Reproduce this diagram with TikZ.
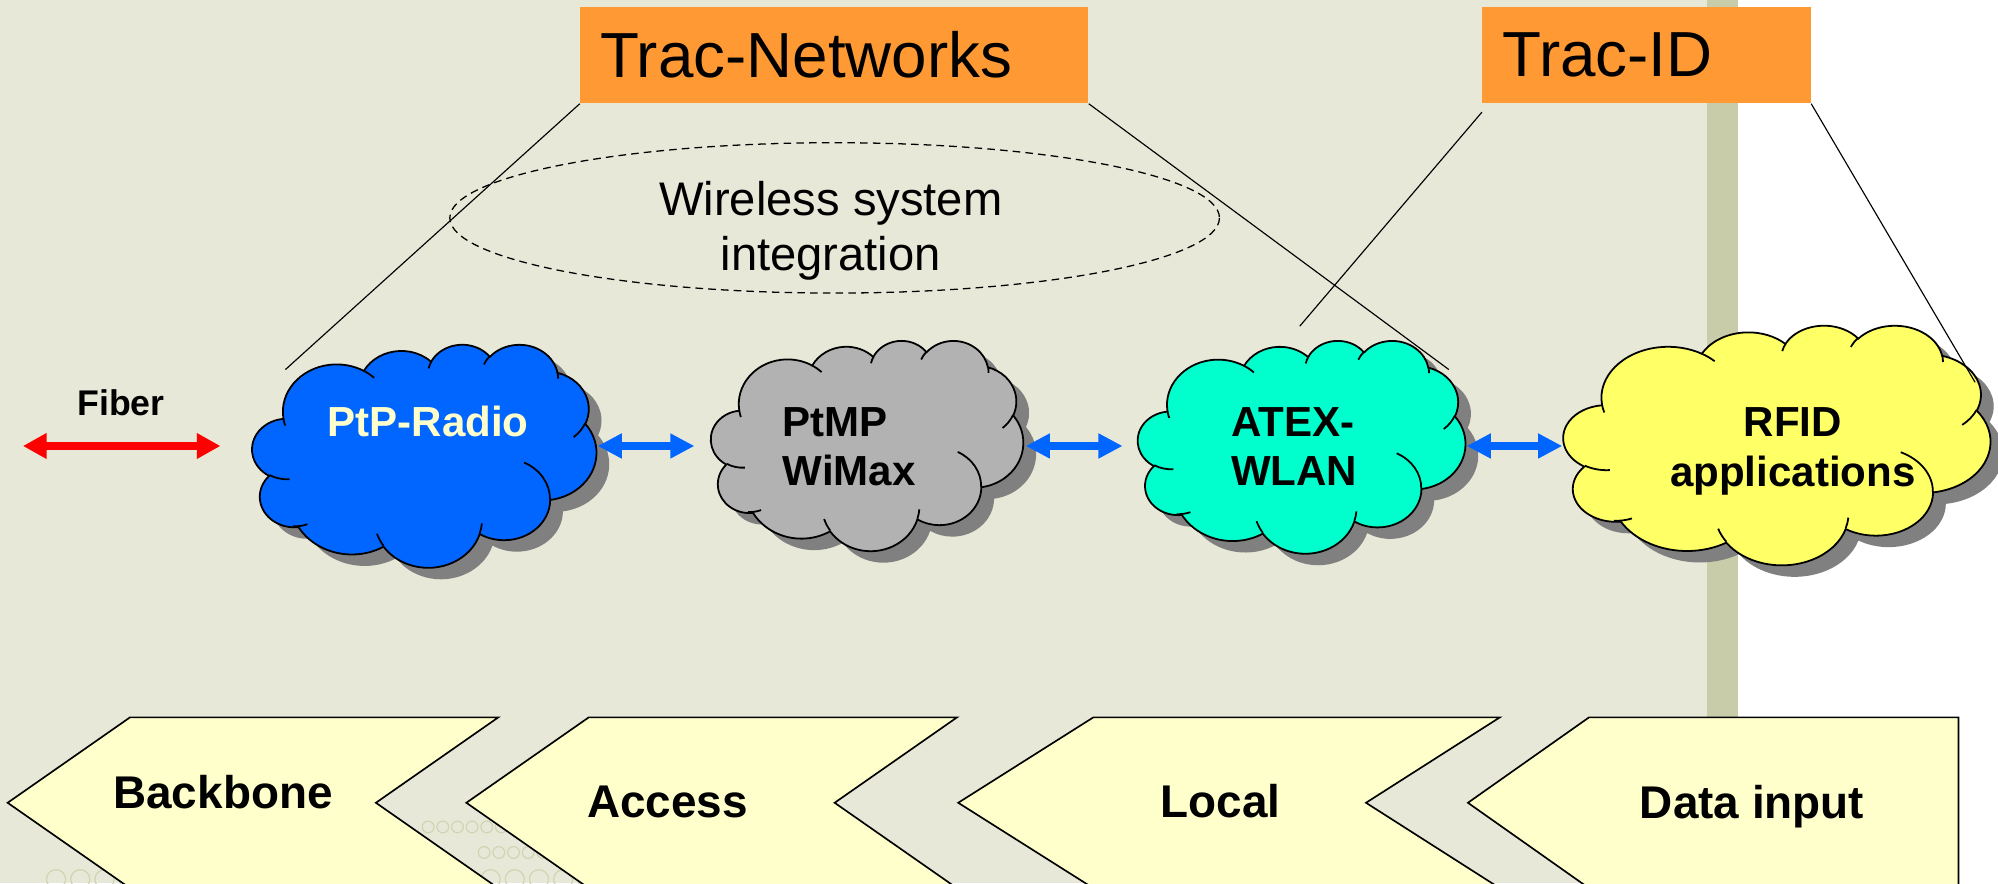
\documentclass[tikz,border=0pt]{standalone}
\usepackage{fontspec}
\setmainfont{Liberation Sans}
\usetikzlibrary{arrows.meta}
\definecolor{bgbeige}{HTML}{E8E8D8}
\definecolor{stripecol}{HTML}{C8CCA8}
\definecolor{orangebox}{HTML}{FF9933}
\definecolor{chevfill}{HTML}{FFFFCC}
\definecolor{ptpblue}{HTML}{0066FF}
\definecolor{wimaxgray}{HTML}{B2B2B2}
\definecolor{atexgreen}{HTML}{00FFCC}
\definecolor{rfidyellow}{HTML}{FFFF66}
\definecolor{dotcol}{HTML}{D0D4B0}
\definecolor{fibred}{HTML}{FF0000}
\definecolor{shadowgray}{HTML}{808080}
% PowerPoint-style cloud outline in a 432 x 432 box (y downwards)
\def\cloudouterpath{(39.00,143.70)
 arc[start angle=-187.745, end angle=-59.636, x radius=67.53, y radius=91.90]
 arc[start angle=-152.055, end angle=-45.443, x radius=53.33, y radius=72.67]
 arc[start angle=-153.492, end angle=-37.336, x radius=43.65, y radius=59.45]
 arc[start angle=-139.702, end angle=-10.212, x radius=48.57, y radius=65.95]
 arc[start angle=-74.768, end angle=23.209, x radius=53.33, y radius=72.73]
 arc[start angle=-37.521, end angle=81.862, x radius=67.75, y radius=92.20]
 arc[start angle=0.4596, end angle=121.980, x radius=57.85, y radius=78.67]
 arc[start angle=16.845, end angle=146.213, x radius=67.52, y radius=92.15]
 arc[start angle=58.988, end angle=150.203, x radius=77.20, y radius=105.43]
 arc[start angle=-276.694, end angle=-136.885, x radius=43.60, y radius=59.18]
 arc[start angle=-239.649, end angle=-95.887, x radius=43.45, y radius=59.45]
 -- cycle}
\def\cloudinnerpath{
 (46.93,261.77) arc[start angle=85.547, end angle=120.351, x radius=43.45, y radius=59.45]
 (69.28,348.99) arc[start angle=68.233, end angle=92.756, x radius=43.60, y radius=59.18]
 (164.78,390.90) arc[start angle=146.213, end angle=162.447, x radius=67.52, y radius=92.15]
 (288.27,347.51) arc[start angle=4.738, end angle=16.845, x radius=67.52, y radius=92.15]
 (341.29,229.54) arc[start angle=-64.028, end angle=0.4596, x radius=57.85, y radius=78.67]
 (417.98,153.54) arc[start angle=23.209, end angle=49.642, x radius=53.33, y radius=72.73]
 (383.24,54.26) arc[start angle=-10.212, end angle=0.821, x radius=48.57, y radius=65.95]
 (290.78,39.52) arc[start angle=-156.276, end angle=-139.702, x radius=48.57, y radius=65.95]
 (221.41,47.20) arc[start angle=-167.726, end angle=-153.492, x radius=43.65, y radius=59.45]
 (140.00,51.92) arc[start angle=-59.636, end angle=-45.735, x radius=67.53, y radius=91.90]
 (41.27,157.89) arc[start angle=163.195, end angle=172.254, x radius=67.53, y radius=91.90]}
\tikzset{
  pics/pptcloud/.style n args={3}{code={
    \begin{scope}[shift={(10,9)}, xscale=#2/432, yscale=#3/432]
      \fill[shadowgray] \cloudouterpath;
    \end{scope}
    \begin{scope}[xscale=#2/432, yscale=#3/432]
      \filldraw[fill=#1, draw=black, line width=1.4pt] \cloudouterpath;
      \draw[line width=1.4pt] \cloudinnerpath;
    \end{scope}
  }}
}
\begin{document}
\begin{tikzpicture}[x=1pt,y=-1pt,
  cloudbox/.style={draw=none, inner sep=0pt, anchor=north west},
  cloudtext/.style={font=\bfseries\fontsize{33}{39}\selectfont, align=left, inner sep=0pt},
  tracbox/.style={fill=orangebox, draw=none, minimum height=76pt, inner xsep=16pt, inner ysep=0pt,
    font=\fontsize{50}{60}\selectfont, align=left, anchor=north west},
  callout/.style={draw=black, line width=0.9pt},
  chevron/.style={draw=black, line width=1.3pt, fill=chevfill},
  chevtext/.style={font=\bfseries\fontsize{36}{42}\selectfont, inner sep=0pt},
  linkarrow/.style={draw=ptpblue, line width=6.5pt, {Triangle[width=18.5pt,length=19pt]}-{Triangle[width=18.5pt,length=19pt]}},
  fiberarrow/.style={draw=fibred, line width=6.5pt, {Triangle[width=19pt,length=18.5pt]}-{Triangle[width=19pt,length=18.5pt]}},
  dotsmall/.style={draw=dotcol, line width=0.9pt},
]
\useasboundingbox (0,0) rectangle (1568,693);
\clip (0,0) rectangle (1568,693);
% background
\fill[bgbeige] (0,0) rectangle (1340,693);
\fill[stripecol] (1340,0) rectangle (1364,693);
\fill[white] (1364,0) rectangle (1568,693);
% faint background circles
\foreach \i in {0,...,5} {\draw[dotsmall] (336+\i*11.5,649) circle (4.6);}
\foreach \i in {0,...,4} {\draw[dotsmall] (380+\i*11.5,669) circle (4.6);}
\foreach \i in {0,...,4} {\draw[dotsmall] (44+\i*19,690) circle (7.5);}
\foreach \i in {0,...,4} {\draw[dotsmall] (385+\i*19,690) circle (7.5);}

% title boxes
\node[tracbox, minimum width=399pt, text width=367pt] (tn) at (455,5) {Trac-Networks};
\node[tracbox, minimum width=258pt, text width=226pt] (tid) at (1163,5) {Trac-ID};

% wireless system integration
\draw[dashed, dash pattern=on 6pt off 4pt, line width=1pt] (655,171) ellipse [x radius=302, y radius=59];
\node[font=\fontsize{37}{43}\selectfont, align=center, inner sep=0pt] (wsi) at (652,181) {Wireless system\\integration};

% clouds
\node[cloudbox, minimum width=270pt, minimum height=175pt] (ptp) at (198,270) {};
\node[cloudbox, minimum width=245pt, minimum height=165pt] (ptmp) at (558,267) {};
\node[cloudbox, minimum width=257pt, minimum height=167pt] (atex) at (893,267) {};
\node[cloudbox, minimum width=335pt, minimum height=188pt] (rfid) at (1227,255) {};
\pic at (ptp.north west) {pptcloud={ptpblue}{270}{175}};
\pic at (ptmp.north west) {pptcloud={wimaxgray}{245}{165}};
\pic at (atex.north west) {pptcloud={atexgreen}{257}{167}};
\pic at (rfid.north west) {pptcloud={rfidyellow}{335}{188}};

\node[cloudtext, text=chevfill] (ptpt) at (336,331) {PtP-Radio};
\node[cloudtext, anchor=west] (ptmpt) at (614,350.5) {PtMP\\WiMax};
\node[cloudtext, anchor=west] (atext) at (966,350.5) {ATEX-\\WLAN};
\node[cloudtext, align=center] (rfidt) at (1407,354) {RFID\\applications};

% fiber
\coordinate (fibL) at (18,350);
\coordinate (fibR) at (173,350);
\draw[fiberarrow] (fibL) -- (fibR);
\node[font=\bfseries\fontsize{28}{32}\selectfont, inner sep=0pt] (fiber) at (95,316) {Fiber};

% links
\coordinate (a1) at (469,350); \coordinate (a2) at (545,350);
\coordinate (b1) at (805,350); \coordinate (b2) at (881,350);
\coordinate (c1) at (1151,350); \coordinate (c2) at (1226,350);
\draw[linkarrow] (a1) -- (a2);
\draw[linkarrow] (b1) -- (b2);
\draw[linkarrow] (c1) -- (c2);

% callout lines
\coordinate (p1) at (224,290);
\coordinate (p2) at (1137,290);
\coordinate (p3) at (1020,256);
\coordinate (p4) at (1550,300);
\coordinate (t3) at (1163,88);
\draw[callout] (tn.south west) -- (p1);
\draw[callout] (tn.south east) -- (p2);
\draw[callout] (t3) -- (p3);
\draw[callout] (tid.south east) -- (p4);

% chevrons
\draw[chevron] (102,563) -- (391,563) -- (295,630) -- (391,697) -- (102,697) -- (6,630) -- cycle;
\draw[chevron] (462,563) -- (751,563) -- (655,630) -- (751,697) -- (462,697) -- (366,630) -- cycle;
\draw[chevron] (858,563) -- (1177,563) -- (1072,630) -- (1177,697) -- (858,697) -- (752,630) -- cycle;
\draw[chevron] (1247,563) -- (1537,563) -- (1537,697) -- (1247,697) -- (1152,630) -- cycle;
\node[chevtext] (bb) at (175,621.5) {Backbone};
\node[chevtext] (acc) at (524,629) {Access};
\node[chevtext] (loc) at (958,629) {Local};
\node[chevtext] (din) at (1375,633) {Data input};
\end{tikzpicture}
\end{document}
